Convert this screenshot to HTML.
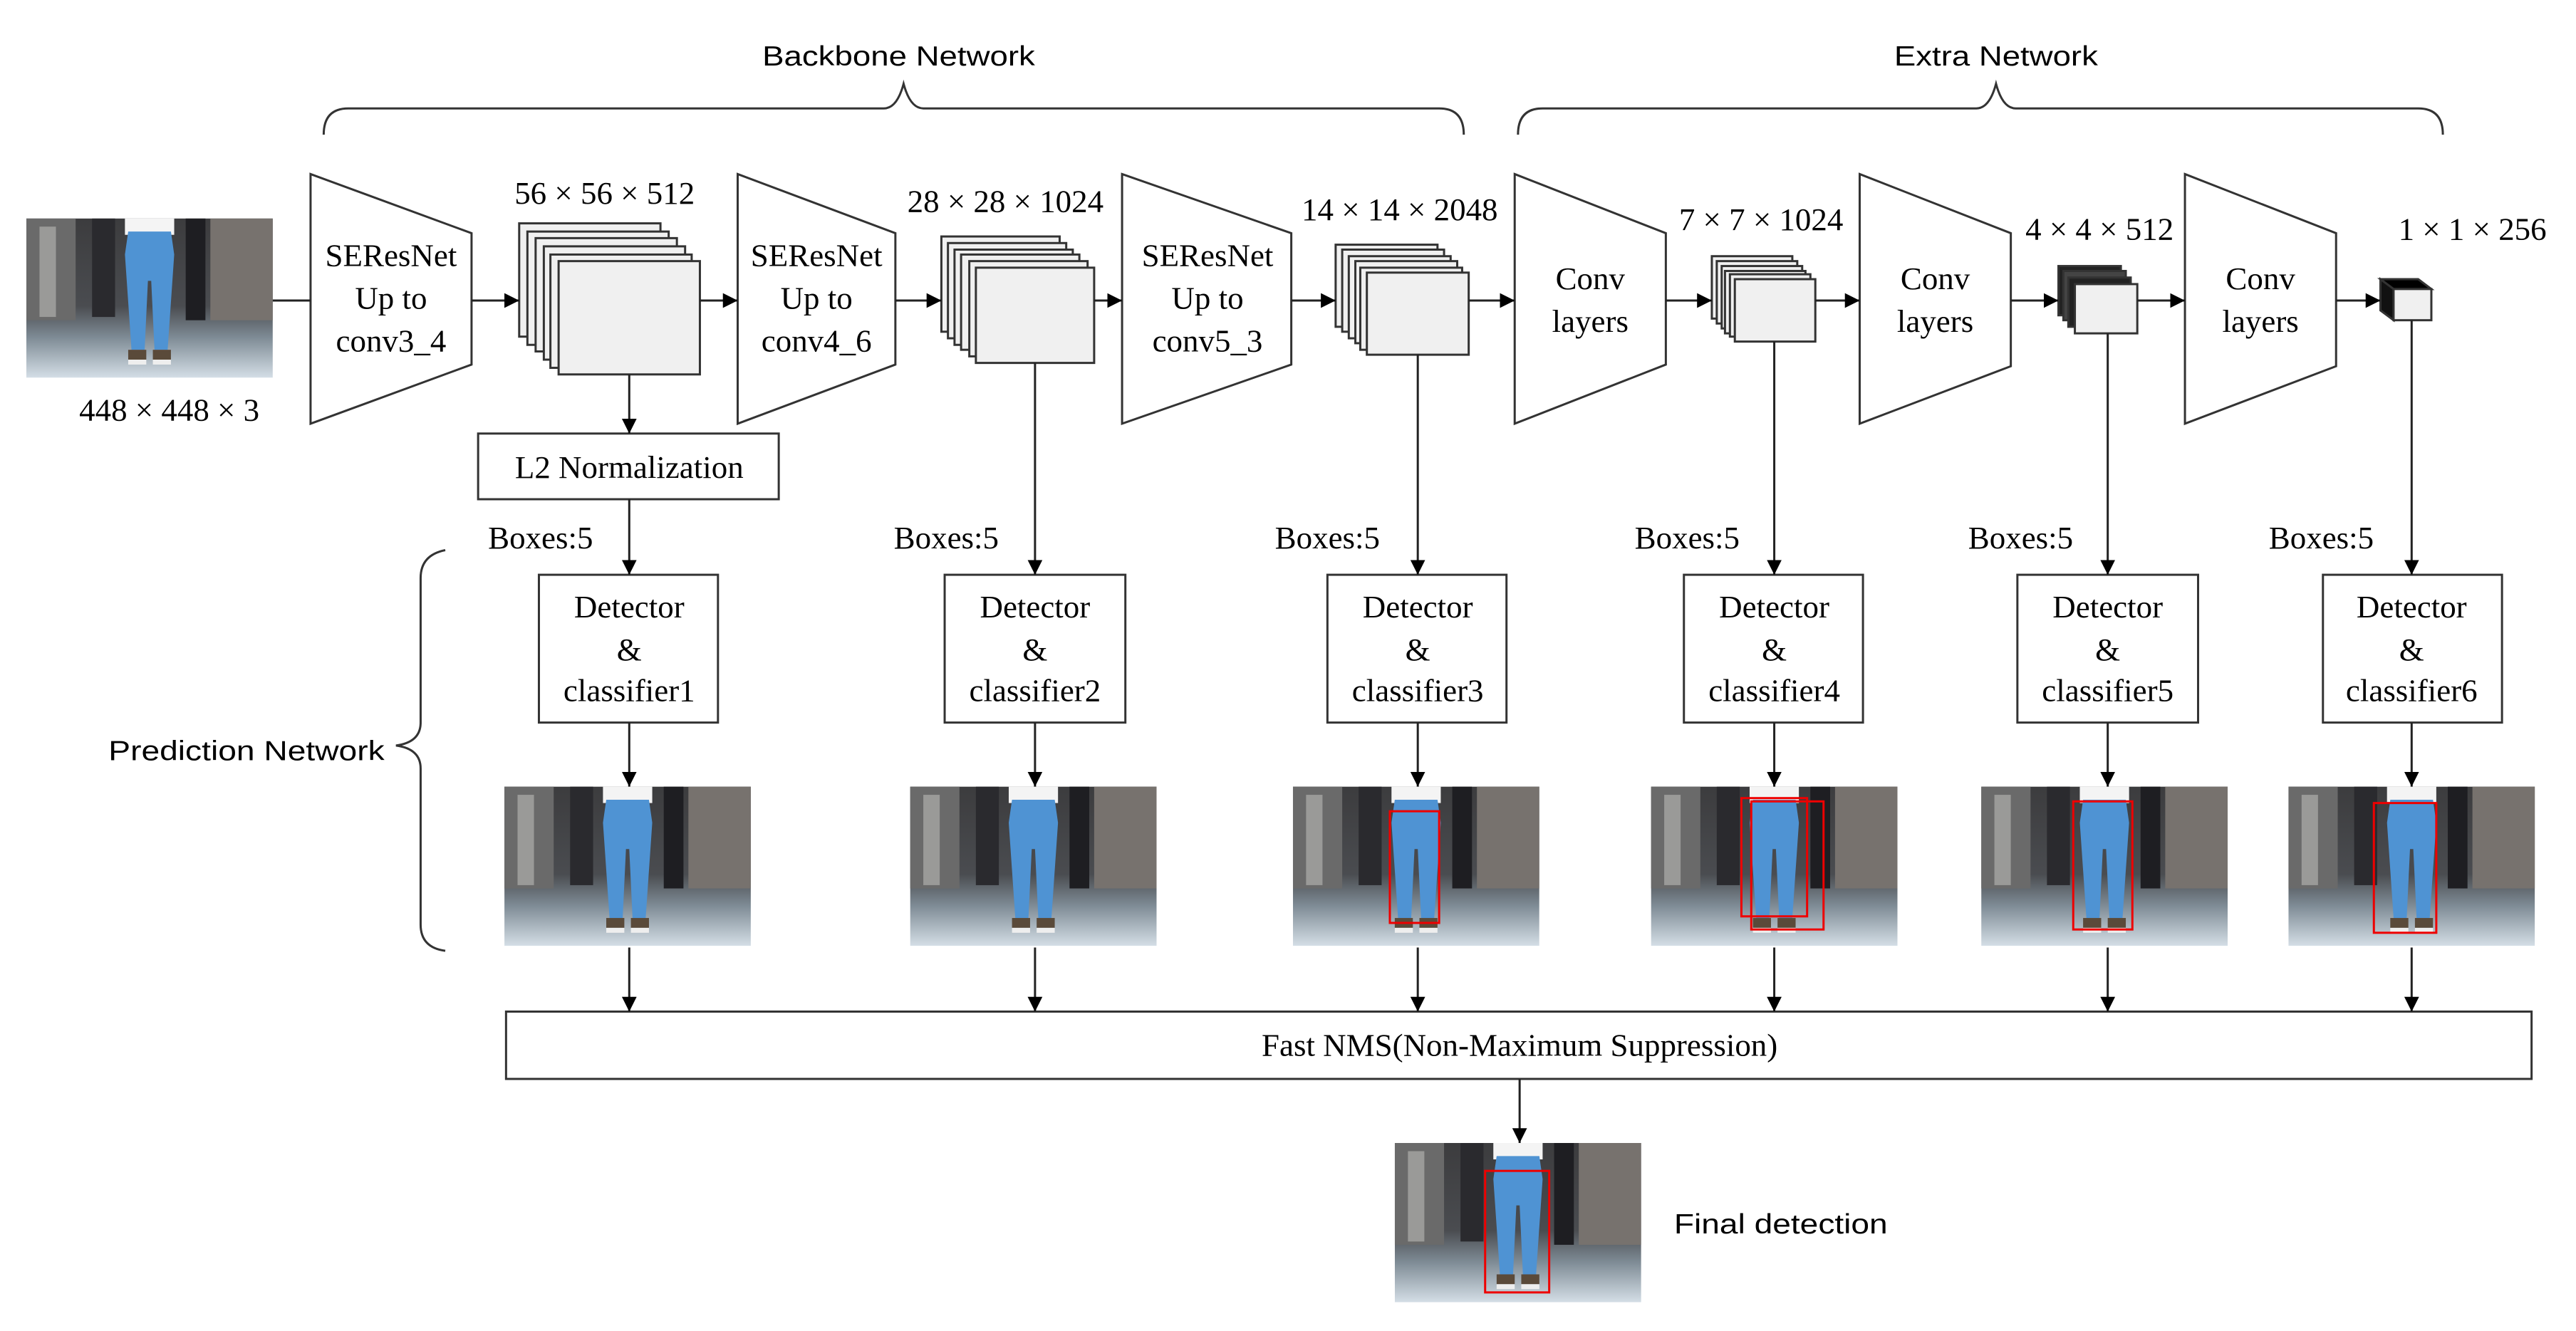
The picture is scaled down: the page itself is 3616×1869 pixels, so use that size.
<!DOCTYPE html>
<html><head><meta charset="utf-8"><style>html,body{margin:0;padding:0;background:#fff}svg{display:block}</style></head>
<body>
<svg width="3616" height="1869" viewBox="0 0 1568 810.5" xmlns="http://www.w3.org/2000/svg">
<defs>
<marker id="ah" viewBox="0 0 10 10" refX="10" refY="5" markerWidth="9" markerHeight="9" markerUnits="userSpaceOnUse" orient="auto"><path d="M0,0 L10,5 L0,10 z" fill="#000"/></marker>
<linearGradient id="floor" x1="0" y1="0" x2="0" y2="1"><stop offset="0" stop-color="#3c3c3e"/><stop offset="0.55" stop-color="#4a4c50"/><stop offset="0.75" stop-color="#7f8c96"/><stop offset="1" stop-color="#d4dee6"/></linearGradient>
<symbol id="photo" viewBox="0 0 150 97" preserveAspectRatio="none">
<rect width="150" height="97" fill="url(#floor)"/>
<rect x="0" y="0" width="30" height="62" fill="#6a6a6a"/>
<rect x="8" y="5" width="10" height="55" fill="#9a9a98"/>
<rect x="112" y="0" width="38" height="62" fill="#77726e"/>
<rect x="97" y="0" width="12" height="62" fill="#1e1e22"/>
<rect x="40" y="0" width="14" height="60" fill="#2a2a2e"/>
<rect x="60" y="0" width="30" height="10" fill="#f4f4f4"/>
<path d="M62,8 L88,8 L90,22 L86,80 L78,80 L76,38 L74,38 L72,80 L64,80 L60,22 Z" fill="#4f93d3"/>
<rect x="62" y="80" width="11" height="6" fill="#5a4a3a"/>
<rect x="77" y="80" width="11" height="6" fill="#5a4a3a"/>
<rect x="62" y="86" width="11" height="3" fill="#eee"/>
<rect x="77" y="86" width="11" height="3" fill="#eee"/>
</symbol>
</defs>
<g fill="none" stroke="#333" stroke-width="1.3">
<path d="M197,82 Q197,66 212,66 L538,66 Q546,66 550,51 Q554,66 562,66 L876,66 Q891,66 891,82"/>
<path d="M924,82 Q924,66 939,66 L1203,66 Q1211,66 1215,51 Q1219,66 1227,66 L1472,66 Q1487,66 1487,82"/>
<path d="M271,335 Q256,338 256,352 L256,440 Q256,452 241,454 Q256,456 256,468 L256,563 Q256,577 271,579"/>
<path d="M189,106 L287,142 L287,222 L189,258 Z"/>
<path d="M449,106 L545,142 L545,222 L449,258 Z"/>
<path d="M683,106 L786,142 L786,222 L683,258 Z"/>
<path d="M922,106 L1014,142 L1014,222 L922,258 Z"/>
<path d="M1132,106 L1224,142 L1224,223 L1132,258 Z"/>
<path d="M1330,106 L1422,142 L1422,223 L1330,258 Z"/>
</g>
<g stroke="#333" stroke-width="1.3" fill="#f0f0f0">
<rect x="316" y="136" width="86" height="69"/><rect x="321" y="141" width="86" height="69"/><rect x="326" y="145" width="86" height="69"/><rect x="331" y="150" width="86" height="69"/><rect x="335" y="155" width="86" height="69"/><rect x="340" y="159" width="86" height="69"/>
<rect x="573" y="144" width="72" height="58"/><rect x="577" y="148" width="72" height="58"/><rect x="581" y="152" width="72" height="58"/><rect x="585" y="155" width="72" height="58"/><rect x="590" y="159" width="72" height="58"/><rect x="594" y="163" width="72" height="58"/>
<rect x="813" y="149" width="62" height="50"/><rect x="817" y="152" width="62" height="50"/><rect x="821" y="156" width="62" height="50"/><rect x="825" y="159" width="62" height="50"/><rect x="828" y="163" width="62" height="50"/><rect x="832" y="166" width="62" height="50"/>
<rect x="1042" y="156" width="49" height="38"/><rect x="1045" y="159" width="49" height="38"/><rect x="1048" y="162" width="49" height="38"/><rect x="1050" y="165" width="49" height="38"/><rect x="1053" y="167" width="49" height="38"/><rect x="1056" y="170" width="49" height="38"/>
<rect x="1253" y="162" width="38" height="30" fill="#222"/><rect x="1256" y="165" width="38" height="30" fill="#444"/><rect x="1259" y="169" width="38" height="30" fill="#222"/><rect x="1263" y="173" width="38" height="30"/>
<path d="M1449,170 L1472,170 L1480,176 L1457,176 Z" fill="#000"/><path d="M1449,170 L1457,176 L1457,195 L1449,189 Z" fill="#111"/><rect x="1457" y="176" width="23" height="19"/>
</g>
<g fill="#fff" stroke="#333" stroke-width="1.3">
<rect x="291" y="264" width="183" height="40"/>
<rect x="328" y="350" width="109" height="90"/>
<rect x="575" y="350" width="110" height="90"/>
<rect x="808" y="350" width="109" height="90"/>
<rect x="1025" y="350" width="109" height="90"/>
<rect x="1228" y="350" width="110" height="90"/>
<rect x="1414" y="350" width="109" height="90"/>
<rect x="308" y="616" width="1233" height="41"/>
</g>
<use href="#photo" x="16" y="133" width="150" height="97"/>
<use href="#photo" x="307" y="479" width="150" height="97"/>
<use href="#photo" x="554" y="479" width="150" height="97"/>
<use href="#photo" x="787" y="479" width="150" height="97"/>
<use href="#photo" x="1005" y="479" width="150" height="97"/>
<use href="#photo" x="1206" y="479" width="150" height="97"/>
<use href="#photo" x="1393" y="479" width="150" height="97"/>
<use href="#photo" x="849" y="696" width="150" height="97"/>
<g fill="none" stroke="#e00" stroke-width="1.3">
<rect x="846" y="494" width="30" height="68"/>
<rect x="1060" y="486" width="40" height="72"/><rect x="1066" y="488" width="44" height="78"/>
<rect x="1262" y="488" width="36" height="78"/>
<rect x="1445" y="489" width="38" height="79"/>
<rect x="904" y="713" width="39" height="74"/>
</g>
<g stroke="#222" stroke-width="1.3" fill="none">
<line x1="166" y1="183" x2="189" y2="183"/>
<line x1="287" y1="183" x2="316" y2="183" marker-end="url(#ah)"/>
<line x1="426" y1="183" x2="449" y2="183" marker-end="url(#ah)"/>
<line x1="545" y1="183" x2="573" y2="183" marker-end="url(#ah)"/>
<line x1="666" y1="183" x2="683" y2="183" marker-end="url(#ah)"/>
<line x1="786" y1="183" x2="813" y2="183" marker-end="url(#ah)"/>
<line x1="894" y1="183" x2="922" y2="183" marker-end="url(#ah)"/>
<line x1="1014" y1="183" x2="1042" y2="183" marker-end="url(#ah)"/>
<line x1="1105" y1="183" x2="1132" y2="183" marker-end="url(#ah)"/>
<line x1="1224" y1="183" x2="1253" y2="183" marker-end="url(#ah)"/>
<line x1="1301" y1="183" x2="1330" y2="183" marker-end="url(#ah)"/>
<line x1="1422" y1="183" x2="1449" y2="183" marker-end="url(#ah)"/>
<line x1="383" y1="228" x2="383" y2="264" marker-end="url(#ah)"/>
<line x1="383" y1="304" x2="383" y2="350" marker-end="url(#ah)"/>
<line x1="630" y1="221" x2="630" y2="350" marker-end="url(#ah)"/>
<line x1="863" y1="216" x2="863" y2="350" marker-end="url(#ah)"/>
<line x1="1080" y1="208" x2="1080" y2="350" marker-end="url(#ah)"/>
<line x1="1283" y1="203" x2="1283" y2="350" marker-end="url(#ah)"/>
<line x1="1468" y1="195" x2="1468" y2="350" marker-end="url(#ah)"/>
<line x1="383" y1="440" x2="383" y2="479" marker-end="url(#ah)"/>
<line x1="630" y1="440" x2="630" y2="479" marker-end="url(#ah)"/>
<line x1="863" y1="440" x2="863" y2="479" marker-end="url(#ah)"/>
<line x1="1080" y1="440" x2="1080" y2="479" marker-end="url(#ah)"/>
<line x1="1283" y1="440" x2="1283" y2="479" marker-end="url(#ah)"/>
<line x1="1468" y1="440" x2="1468" y2="479" marker-end="url(#ah)"/>
<line x1="383" y1="577" x2="383" y2="616" marker-end="url(#ah)"/>
<line x1="630" y1="577" x2="630" y2="616" marker-end="url(#ah)"/>
<line x1="863" y1="577" x2="863" y2="616" marker-end="url(#ah)"/>
<line x1="1080" y1="577" x2="1080" y2="616" marker-end="url(#ah)"/>
<line x1="1283" y1="577" x2="1283" y2="616" marker-end="url(#ah)"/>
<line x1="1468" y1="577" x2="1468" y2="616" marker-end="url(#ah)"/>
<line x1="925" y1="657" x2="925" y2="696" marker-end="url(#ah)"/>
</g>
<g font-family="Liberation Serif, serif" font-size="19.5" fill="#000" text-anchor="middle">
<text x="238" y="162">SEResNet</text><text x="238" y="188">Up to</text><text x="238" y="214">conv3_4</text>
<text x="497" y="162">SEResNet</text><text x="497" y="188">Up to</text><text x="497" y="214">conv4_6</text>
<text x="735" y="162">SEResNet</text><text x="735" y="188">Up to</text><text x="735" y="214">conv5_3</text>
<text x="968" y="176">Conv</text><text x="968" y="202">layers</text>
<text x="1178" y="176">Conv</text><text x="1178" y="202">layers</text>
<text x="1376" y="176">Conv</text><text x="1376" y="202">layers</text>
<text x="368" y="124">56 × 56 × 512</text>
<text x="612" y="129">28 × 28 × 1024</text>
<text x="852" y="134">14 × 14 × 2048</text>
<text x="1072" y="140">7 × 7 × 1024</text>
<text x="1278" y="146">4 × 4 × 512</text>
<text x="1505" y="146">1 × 1 × 256</text>
<text x="103" y="256">448 × 448 × 3</text>
<text x="383" y="291">L2 Normalization</text>
<text x="329" y="334">Boxes:5</text><text x="576" y="334">Boxes:5</text><text x="808" y="334">Boxes:5</text>
<text x="1027" y="334">Boxes:5</text><text x="1230" y="334">Boxes:5</text><text x="1413" y="334">Boxes:5</text>
<text x="383" y="376">Detector</text><text x="383" y="402">&amp;</text><text x="383" y="427">classifier1</text>
<text x="630" y="376">Detector</text><text x="630" y="402">&amp;</text><text x="630" y="427">classifier2</text>
<text x="863" y="376">Detector</text><text x="863" y="402">&amp;</text><text x="863" y="427">classifier3</text>
<text x="1080" y="376">Detector</text><text x="1080" y="402">&amp;</text><text x="1080" y="427">classifier4</text>
<text x="1283" y="376">Detector</text><text x="1283" y="402">&amp;</text><text x="1283" y="427">classifier5</text>
<text x="1468" y="376">Detector</text><text x="1468" y="402">&amp;</text><text x="1468" y="427">classifier6</text>
<text x="925" y="643">Fast NMS(Non-Maximum Suppression)</text>
</g>
<g font-family="Liberation Sans, sans-serif" font-size="17" fill="#000">
<text x="464" y="40" textLength="166" lengthAdjust="spacingAndGlyphs">Backbone Network</text>
<text x="1153" y="40" textLength="124" lengthAdjust="spacingAndGlyphs">Extra Network</text>
<text x="66" y="463" textLength="168" lengthAdjust="spacingAndGlyphs">Prediction Network</text>
<text x="1019" y="751" textLength="130" lengthAdjust="spacingAndGlyphs">Final detection</text>
</g>
</svg>
</body></html>
